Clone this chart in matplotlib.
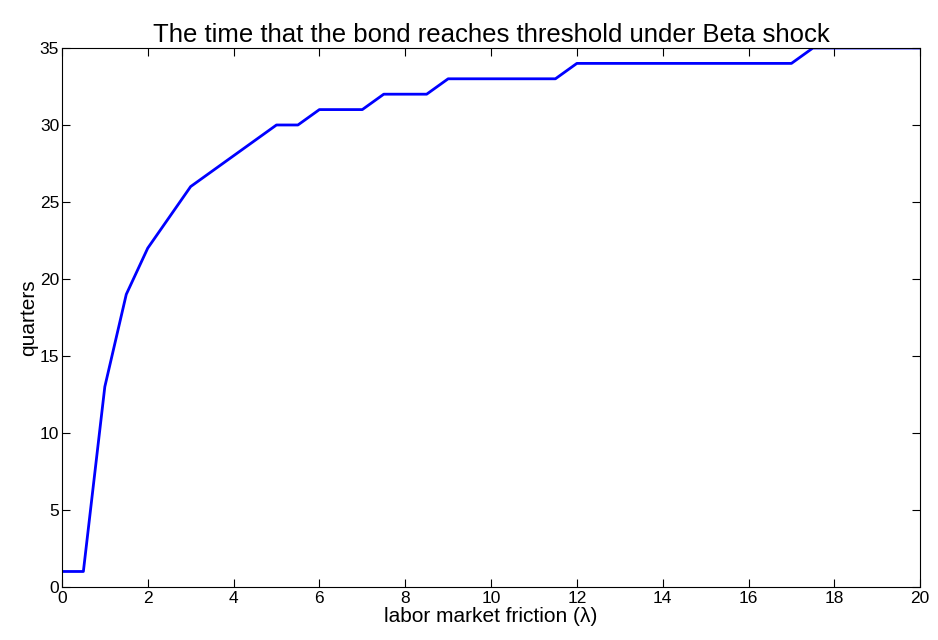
import numpy as np
import matplotlib
matplotlib.use("Agg")
import matplotlib.pyplot as plt

# ── data ────────────────────────────────────────────────────────────────
friction = np.arange(0, 20.01, 0.5)
quarters = [1, 1, 13, 19, 22, 24, 26, 27, 28, 29,
            30, 30, 31, 31, 31, 32, 32, 32, 33, 33,
            33, 33, 33, 33, 34, 34, 34, 34, 34, 34,
            34, 34, 34, 34, 34, 35, 35, 35, 35, 35, 35]

# ── style ───────────────────────────────────────────────────────────────
plt.rcParams.update({
    "font.family": ["Liberation Sans", "DejaVu Sans"],
    "font.size": 12,
    "xtick.direction": "in",
    "ytick.direction": "in",
    "xtick.top": True,
    "ytick.right": True,
})

fig = plt.figure(figsize=(9.38, 6.40), dpi=100)
ax = fig.add_axes([0.066, 0.083, 0.915, 0.842])

ax.plot(friction, quarters, color="#0000ff", lw=2)

ax.set_xlim(0, 20)
ax.set_ylim(0, 35)
ax.set_xticks(range(0, 21, 2))
ax.set_yticks(range(0, 36, 5))
ax.tick_params(length=6, width=0.8, labelsize=12.5)
ax.tick_params(axis="x", pad=3)
ax.tick_params(axis="y", pad=2)
for sp in ax.spines.values():
    sp.set_linewidth(0.8)

ax.set_title("The time that the bond reaches threshold under Beta shock",
             fontsize=18.5, pad=4)
ax.set_xlabel("labor market friction (\u03bb)", fontsize=15, labelpad=1)
ax.set_ylabel("quarters", fontsize=15, labelpad=1)

fig.savefig("out.png", dpi=100)
